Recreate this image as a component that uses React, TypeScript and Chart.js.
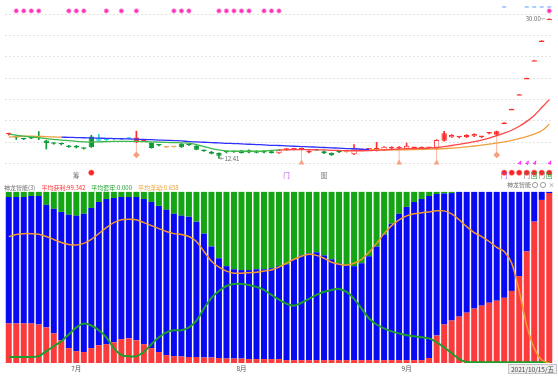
import React, { useEffect, useRef } from 'react';
import { Chart, registerables } from 'chart.js';

Chart.register(...registerables);

const FONT = '"Noto Sans CJK SC", "Noto Sans", sans-serif';

// ---------------- data ----------------
const monthTickIndex = [9, 31, 53];
const monthTickLabels = ['7月', '8月', '9月'];
const lastDateLabel = '2021/10/15/五';

const open = [15.45, 15.1, 14.87, 14.95, 15.1, 14.68, 14.3, 14.25, 14.0, 13.98,
  13.68, 15.18, 14.65, 14.75, 14.84, 14.82, 14.9, 14.45, 14.72, 14.35,
  14.12, 13.8, 13.85, 14.27, 14.15, 14.0, 13.4, 13.25, 13.1, 13.2,
  13.25, 13.4, 13.45, 13.35, 13.35, 13.33, 13.5, 13.5, 13.55, 13.55,
  13.15, 13.45, 13.33, 13.1, 13.25, 13.22, 12.95, 13.4, 13.55, 13.55,
  13.45, 13.65, 13.68, 13.62, 13.75, 13.55, 13.72, 13.65, 14.65, 15.08,
  15.08, 15.07, 15.2, 15.1, 15.55, 15.84, 16.93, 18.63, 20.49, 22.54,
  24.79, 27.27, 30.0];
const high = [15.6, 15.3, 14.92, 15.0, 15.8, 14.7, 14.38, 14.35, 14.05, 14.05,
  13.72, 15.34, 15.45, 14.8, 14.88, 14.9, 15.0, 15.84, 14.78, 14.4,
  14.15, 13.9, 13.95, 14.3, 14.2, 14.05, 13.45, 13.3, 13.12, 13.3,
  13.3, 13.45, 13.5, 13.4, 13.4, 13.38, 13.55, 13.65, 13.66, 13.7,
  13.4, 13.52, 13.36, 13.12, 13.3, 13.28, 14.15, 13.6, 13.66, 14.43,
  13.9, 13.9, 13.9, 14.35, 13.82, 13.88, 13.8, 14.78, 15.82, 15.42,
  15.2, 15.42, 15.52, 15.2, 15.65, 15.86, 16.93, 18.63, 20.49, 22.54,
  24.79, 27.27, 30.0];
const low = [15.35, 14.8, 14.78, 14.9, 14.77, 13.6, 14.2, 14.12, 13.82, 13.72,
  13.58, 13.8, 14.6, 14.68, 14.78, 14.78, 14.88, 14.4, 14.58, 13.7,
  14.0, 13.78, 13.82, 13.8, 14.05, 13.5, 13.3, 12.98, 12.41, 13.1,
  13.18, 13.08, 13.12, 13.1, 13.12, 13.08, 13.05, 13.45, 13.5, 13.5,
  13.12, 13.4, 13.02, 12.78, 13.15, 13.15, 12.9, 13.38, 13.5, 13.35,
  13.42, 13.6, 13.62, 13.55, 13.65, 13.5, 13.68, 13.6, 14.6, 15.05,
  15.0, 15.05, 15.15, 15.02, 15.5, 15.3, 16.93, 18.63, 20.49, 22.54,
  24.79, 27.27, 30.0];
const close = [15.5, 15.05, 14.82, 14.93, 15.05, 14.35, 14.25, 14.2, 13.85, 13.78,
  13.62, 13.82, 14.95, 14.72, 14.82, 14.86, 14.97, 15.05, 14.62, 13.73,
  14.05, 13.88, 13.9, 13.83, 14.1, 13.52, 13.35, 13.0, 12.75, 13.22,
  13.23, 13.1, 13.15, 13.12, 13.15, 13.1, 13.08, 13.6, 13.62, 13.65,
  13.35, 13.48, 13.05, 12.8, 13.2, 13.18, 13.65, 13.55, 13.62, 13.6,
  13.88, 13.85, 13.85, 14.0, 13.72, 13.85, 13.76, 14.75, 15.6, 15.38,
  15.1, 15.38, 15.5, 15.12, 15.62, 15.39, 16.93, 18.63, 20.49, 22.54,
  24.79, 27.27, 30.0];
// candle kind: g down, r up (hollow), R up (solid), c / o highlighted
const candleKind = 'rgggggggggggcccccRRggoogggggggggggggrrrRrggggorrrRrrrrRrrrRrrRrrRRRRRRRR';

const maShort = [15.47, 15.34, 15.22, 15.13, 15.03, 14.91, 14.82, 14.72, 14.65, 14.57,
  14.51, 14.47, 14.50, 14.53, 14.56, 14.57, 14.57, 14.56, 14.53, 14.50,
  14.47, 14.43, 14.41, 14.38, 14.35, 14.16, 13.91, 13.66, 13.48, 13.35,
  13.32, 13.32, 13.32, 13.32, 13.35, 13.42, 13.48, 13.50, 13.52, 13.52,
  13.52, 13.50, 13.48, 13.44, 13.42, 13.39, 13.38, 13.38, 13.39, 13.44,
  13.48, 13.54, 13.60, 13.64, 13.66, 13.69, 13.73, 13.79, 13.91, 14.04,
  14.19, 14.35, 14.53, 14.72, 14.97, 15.28, 15.59, 15.96, 16.46, 17.08,
  17.83, 18.82, 19.81];
const maLong = [15.09, 15.16, 15.22, 15.22, 15.19, 15.16, 15.12, 15.09, 15.07, 15.04,
  15.02, 14.99, 14.97, 14.94, 14.92, 14.89, 14.87, 14.84, 14.81, 14.77,
  14.73, 14.70, 14.66, 14.62, 14.53, 14.50, 14.45, 14.41, 14.37, 14.32,
  14.29, 14.25, 14.20, 14.16, 14.12, 14.07, 14.04, 14.00, 13.95, 13.91,
  13.88, 13.83, 13.79, 13.75, 13.70, 13.66, 13.63, 13.58, 13.54, 13.50,
  13.48, 13.48, 13.49, 13.50, 13.53, 13.55, 13.58, 13.60, 13.65, 13.70,
  13.78, 13.88, 13.98, 14.10, 14.22, 14.35, 14.50, 14.68, 14.91, 15.16,
  15.47, 15.90, 16.71];

// lower panel: chip distribution percentages
const profitPct = [23.1, 23.1, 23.1, 23.1, 22.5, 20.8, 17.3, 13.3, 8.7, 6.9,
  6.4, 8.7, 10.4, 11.0, 12.1, 13.9, 14.4, 13.3, 11.0, 8.7,
  6.4, 4.6, 4.0, 3.8, 3.5, 3.5, 3.2, 3.2, 2.9, 2.6,
  2.6, 2.6, 2.3, 2.3, 2.3, 2.3, 2.3, 1.7, 1.7, 1.7,
  1.7, 1.7, 1.7, 1.7, 1.7, 1.7, 1.7, 1.7, 1.7, 1.7,
  1.7, 1.7, 1.7, 1.7, 1.7, 1.7, 2.9, 16.0, 22.5, 24.8,
  27.1, 29.4, 31.8, 33.5, 35.2, 36.4, 38.1, 42.1, 50.8, 65.2,
  82.6, 95.3, 99.342];
const floatPct = [73.9, 73.9, 73.9, 74.5, 75.1, 71.6, 72.8, 75.0, 77.9, 79.1,
  80.8, 81.9, 83.7, 84.8, 84.3, 83.1, 82.6, 83.7, 84.8, 85.4,
  85.4, 84.9, 83.2, 82.2, 82.0, 79.1, 72.4, 64.9, 58.3, 54.0,
  52.2, 51.7, 52.0, 52.5, 52.5, 53.1, 54.3, 56.0, 58.9, 61.2,
  62.4, 63.0, 61.2, 58.9, 56.6, 55.5, 54.9, 56.6, 60.7, 66.4,
  73.4, 79.7, 85.5, 89.5, 92.4, 94.1, 94.7, 82.7, 76.5, 74.5,
  72.9, 70.6, 68.2, 66.5, 64.8, 63.6, 61.9, 57.9, 49.2, 34.8,
  17.4, 4.7, 0.658];
const trappedPct = [3.0, 3.0, 3.0, 2.4, 2.4, 7.6, 9.9, 11.7, 13.4, 14.0,
  12.8, 9.4, 5.9, 4.2, 3.6, 3.0, 3.0, 3.0, 4.2, 5.9,
  8.2, 10.5, 12.8, 14.0, 14.5, 17.4, 24.4, 31.9, 38.8, 43.4,
  45.2, 45.7, 45.7, 45.2, 45.2, 44.6, 43.4, 42.3, 39.4, 37.1,
  35.9, 35.3, 37.1, 39.4, 41.7, 42.8, 43.4, 41.7, 37.6, 31.9,
  24.9, 18.6, 12.8, 8.8, 5.9, 4.2, 2.4, 1.3, 1.0, 0.7,
  0, 0, 0, 0, 0, 0, 0, 0, 0, 0,
  0, 0, 0];
const avgLine = [73.9, 75.1, 75.6, 75.6, 75.3, 73.9, 72.2, 70.4, 69.3, 69.0,
  69.9, 72.2, 75.6, 79.1, 82.0, 83.7, 84.0, 83.7, 82.0, 80.3,
  78.5, 76.8, 75.6, 75.1, 73.9, 71.0, 65.2, 59.5, 56.0, 53.7,
  52.5, 52.5, 52.8, 53.1, 53.7, 54.3, 56.0, 58.3, 60.6, 62.4,
  63.5, 62.9, 61.2, 58.9, 57.7, 57.2, 58.3, 60.6, 64.7, 69.9,
  75.6, 80.3, 83.7, 86.0, 87.2, 87.8, 88.3, 88.9, 88.9, 87.2,
  83.7, 79.7, 76.2, 73.9, 71.0, 67.6, 65.2, 58.3, 42.1, 21.9,
  8.7, 1.7, 0];
const trapLine = [3.5, 3.5, 3.5, 3.5, 4.0, 6.9, 9.8, 12.7, 16.7, 20.8,
  23.1, 21.9, 19.1, 15.0, 8.7, 4.6, 4.0, 4.0, 6.4, 11.0,
  15.0, 17.9, 19.1, 19.1, 20.8, 24.8, 31.8, 38.1, 42.1, 45.0,
  46.2, 46.2, 45.6, 44.5, 42.7, 39.8, 37.0, 34.6, 33.5, 35.2,
  37.5, 39.8, 41.6, 42.7, 43.3, 41.6, 37.5, 31.8, 26.0, 22.5,
  20.2, 18.5, 17.3, 16.2, 15.6, 15.0, 14.4, 12.1, 9.2, 5.8,
  2.3, 0.6, 0.5, 0.5, 0.5, 0.5, 0.5, 0.5, 0.5, 0.5,
  0.5, 0.5, 0.4];

// signal bars
const signalTop = [1, 2, 3, 4, 8, 9, 10, 13, 15, 17, 22, 23, 24, 28, 29, 30, 31, 32, 34, 35, 36, 72];
const signalTopBlue = [66, 69, 70, 71, 72];
const signalRed = [11, 66, 67, 68, 69, 70, 71, 72];
const signalFlag = [68, 69, 70, 72];
const arrowMarks = [39, 52, 57];
const diamondMarks = [17, 65];
const iconMarks = [
  { i: 9, t: '筹', k: 'gray' }, { i: 37, t: '门', k: 'purple' }, { i: 42, t: '图', k: 'gray' },
  { i: 66, t: '门', k: 'purple' }, { i: 69, t: '门', k: 'gray' }, { i: 70, t: '回', k: 'green' },
  { i: 71, t: '门', k: 'gray' }, { i: 72, t: '回', k: 'green' },
];

const panelName = '神龙智能(3)';
const panelShortName = '神龙智能';
const summaryLabels = ['平均获利', '平均套牢', '平均浮动'];
const summaryValues = ['99.342', '0.000', '0.658'];

const categories = open.map((_, i) => String(i));

// ---------------- layout / style ----------------
const W = 558, H = 376;
const PLOT_BOTTOM = 363;
const PRICE_MAX = 31.739, PRICE_MIN = -13.354;
const PCT_MAX = 209.2;
const GRID_TOP = 30.56, GRID_STEP = 2.683, GRID_COUNT = 8;
const ROW_TOP_DASH = 2, ROW_TOP_DOT = 6, ROW_DIAMOND = 152, ROW_ARROW = 160, ROW_FLAG = 163,
  ROW_RED = 170, ROW_ICON = 176, ROW_TITLE = 185, ROW_MONTH = 369;
const MA_SHORT_RED_FROM = 36;
const MA_LONG_BLUE_FROM = 7, MA_LONG_BLUE_TO = 48;

const KIND: Record<string, { fill: string; line: string }> = {
  g: { fill: '#0f9a38', line: '#0f9a38' },
  r: { fill: '#ffffff', line: '#ff3434' },
  R: { fill: '#ff2b2b', line: '#ff2b2b' },
  c: { fill: '#8cf0f6', line: '#2fd0e4' },
  o: { fill: '#fcdcbc', line: '#f3a66a' },
};
const ICON_COLOR: Record<string, string> = { gray: '#777777', purple: '#a848e8', green: '#2e9e3a' };
const SUMMARY_COLORS = ['#ff3030', '#1e9e2a', '#f0a030'];

const idx = categories.map((_, i) => i);
const rowData = (list: number[], row: number) => idx.map((i) => (list.includes(i) ? row : null));

const overlay = {
  id: 'overlay',
  beforeDatasetsDraw(chart: any) {
    const { ctx } = chart;
    const xs = chart.scales.x, yp = chart.scales.yp, ym = chart.scales.ym;
    ctx.save();
    ctx.strokeStyle = 'rgba(246,160,128,0.75)';
    ctx.lineWidth = 1;
    const link = (list: number[], row: number) => list.forEach((i) => {
      const px = xs.getPixelForValue(i);
      ctx.beginPath();
      ctx.moveTo(px, yp.getPixelForValue(low[i]));
      ctx.lineTo(px, ym.getPixelForValue(row));
      ctx.stroke();
    });
    link(arrowMarks, ROW_ARROW);
    link(diamondMarks, ROW_DIAMOND);
    ctx.restore();
  },
  afterDatasetsDraw(chart: any) {
    const { ctx } = chart;
    const xs = chart.scales.x, yp = chart.scales.yp, ym = chart.scales.ym;
    ctx.save();
    ctx.textBaseline = 'middle';

    // month labels
    ctx.font = `6.5px ${FONT}`;
    ctx.fillStyle = '#555';
    ctx.textAlign = 'center';
    monthTickIndex.forEach((i, k) => ctx.fillText(monthTickLabels[k], xs.getPixelForValue(i), ROW_MONTH));

    // last date box
    ctx.font = `6.5px ${FONT}`;
    const dw = ctx.measureText(lastDateLabel).width + 6;
    const bx = W - 1 - dw;
    ctx.fillStyle = '#efefef';
    ctx.fillRect(bx, 364, dw, 10);
    ctx.strokeStyle = '#c4c4c4';
    ctx.strokeRect(bx + 0.5, 364.5, dw - 1, 9);
    ctx.fillStyle = '#444';
    ctx.textAlign = 'left';
    ctx.fillText(lastDateLabel, bx + 3, 369.5);

    // panel summary
    ctx.font = `6px ${FONT}`;
    let x = 4;
    ctx.fillStyle = '#707070';
    ctx.fillText(panelName, x, ym.getPixelForValue(ROW_TITLE));
    x += ctx.measureText(panelName).width + 6;
    summaryLabels.forEach((lab, k) => {
      const s = `${lab}:${summaryValues[k]}`;
      ctx.fillStyle = SUMMARY_COLORS[k];
      ctx.fillText(s, x, ym.getPixelForValue(ROW_TITLE));
      x += ctx.measureText(s).width + 6;
    });

    // right panel caption with icons
    ctx.fillStyle = '#707070';
    ctx.fillText(panelShortName, 507, ROW_TITLE);
    ctx.strokeStyle = '#888';
    ctx.lineWidth = 0.8;
    [535, 543].forEach((cx) => { ctx.beginPath(); ctx.arc(cx, ROW_TITLE, 2.6, 0, Math.PI * 2); ctx.stroke(); });
    ctx.textAlign = 'center';
    ctx.fillStyle = '#777';
    ctx.fillText('×', 551.5, ROW_TITLE);

    // max / min price labels
    let iMax = 0, iMin = 0;
    high.forEach((v, i) => { if (v > high[iMax]) iMax = i; });
    low.forEach((v, i) => { if (v < low[iMin]) iMin = i; });
    ctx.font = `6px ${FONT}`;
    const mx = xs.getPixelForValue(iMax), my = yp.getPixelForValue(high[iMax]);
    ctx.strokeStyle = '#999';
    ctx.beginPath(); ctx.moveTo(mx - 8, my); ctx.lineTo(mx - 4, my); ctx.stroke();
    ctx.fillStyle = '#666';
    ctx.textAlign = 'right';
    ctx.fillText(high[iMax].toFixed(2), mx - 8.5, my);
    const nx = xs.getPixelForValue(iMin), ny = yp.getPixelForValue(low[iMin]);
    ctx.beginPath(); ctx.moveTo(nx + 1, ny); ctx.lineTo(nx + 5, ny);
    ctx.moveTo(nx + 1, ny); ctx.lineTo(nx + 2.8, ny - 1.5);
    ctx.moveTo(nx + 1, ny); ctx.lineTo(nx + 2.8, ny + 1.5);
    ctx.stroke();
    ctx.textAlign = 'left';
    ctx.fillText(low[iMin].toFixed(2), nx + 5.5, ny);

    // flags
    ctx.font = `italic bold 6px ${FONT}`;
    ctx.fillStyle = '#ff1cf0';
    ctx.textAlign = 'center';
    signalFlag.forEach((i) => ctx.fillText('4', xs.getPixelForValue(i), ROW_FLAG));

    // icons
    ctx.font = `6.5px ${FONT}`;
    iconMarks.forEach((m) => {
      ctx.fillStyle = ICON_COLOR[m.k];
      ctx.fillText(m.t, xs.getPixelForValue(m.i), ROW_ICON);
    });
    ctx.restore();
  },
};

export default function App() {
  const ref = useRef<HTMLCanvasElement>(null);
  useEffect(() => {
    document.body.style.margin = '0';
    Chart.defaults.font.family = FONT;
    const kinds = candleKind.split('');
    const marker = (data: (number | null)[], extra: any) => ({
      type: 'line', yAxisID: 'ym', data, showLine: false, clip: false, order: 1, ...extra,
    });
    const chart = new Chart(ref.current as HTMLCanvasElement, {
      type: 'bar',
      data: {
        labels: categories,
        datasets: [
          // markers (top-most)
          marker(rowData(signalTop, ROW_TOP_DOT), { pointRadius: 2.2, pointBackgroundColor: '#ff2fbd', pointBorderColor: 'rgba(255,150,215,0.8)', pointBorderWidth: 1 }),
          marker(rowData(signalTopBlue, ROW_TOP_DASH), { pointStyle: 'line', pointRadius: 2, pointBorderColor: '#5b9dff', pointBorderWidth: 1 }),
          marker(rowData(signalRed, ROW_RED), { pointRadius: 2.7, pointBackgroundColor: '#ff1f1f', pointBorderColor: 'rgba(255,130,130,0.6)', pointBorderWidth: 1 }),
          marker(rowData(arrowMarks, ROW_ARROW), { pointStyle: 'triangle', pointRadius: 2.8, pointBackgroundColor: '#f6a27e', pointBorderColor: '#f6a27e', pointBorderWidth: 0.5 }),
          marker(rowData(diamondMarks, ROW_DIAMOND), { pointStyle: 'rectRot', pointRadius: 3, pointBackgroundColor: '#f6a27e', pointBorderColor: '#f48a60', pointBorderWidth: 0.5 }),
          // moving averages
          {
            type: 'line', yAxisID: 'yp', data: maShort, borderWidth: 1.3, pointRadius: 0, tension: 0.3, order: 3,
            borderColor: '#3db84a',
            segment: { borderColor: (c: any) => (c.p0DataIndex < MA_SHORT_RED_FROM ? '#3db84a' : '#ff4545') },
          },
          {
            type: 'line', yAxisID: 'yp', data: maLong, borderWidth: 1.3, pointRadius: 0, tension: 0.3, order: 4,
            borderColor: '#3030ff',
            segment: {
              borderColor: (c: any) => (c.p0DataIndex >= MA_LONG_BLUE_FROM && c.p0DataIndex < MA_LONG_BLUE_TO ? '#3030ff' : '#f0a040'),
            },
          },
          // lower panel lines
          { type: 'line', yAxisID: 'yl', data: avgLine, borderColor: '#f39a2a', borderWidth: 1.5, pointRadius: 0, tension: 0.25, order: 5 },
          { type: 'line', yAxisID: 'yl', data: trapLine, borderColor: '#1e9e2a', borderWidth: 2, pointRadius: 0, tension: 0.25, order: 5 },
          // candle bodies and wicks
          {
            type: 'bar', yAxisID: 'yp', data: idx.map((i) => [open[i], close[i]]), grouped: false,
            backgroundColor: kinds.map((k) => KIND[k].fill), borderColor: kinds.map((k) => KIND[k].line),
            borderWidth: 1, borderSkipped: false, categoryPercentage: 1, barPercentage: 0.72, minBarLength: 1.5, order: 7,
          },
          {
            type: 'bar', yAxisID: 'yp', data: idx.map((i) => [low[i], high[i]]), grouped: false,
            backgroundColor: kinds.map((k) => KIND[k].line), maxBarThickness: 1, categoryPercentage: 1, barPercentage: 1, order: 8,
          },
          // chip distribution stacked bars
          { type: 'bar', yAxisID: 'yb', data: profitPct, backgroundColor: '#fb3b3b', grouped: false, categoryPercentage: 1, barPercentage: 0.8, order: 10 },
          { type: 'bar', yAxisID: 'yb', data: floatPct, backgroundColor: '#0a0af2', grouped: false, categoryPercentage: 1, barPercentage: 0.8, order: 10 },
          { type: 'bar', yAxisID: 'yb', data: trappedPct, backgroundColor: '#13a513', grouped: false, categoryPercentage: 1, barPercentage: 0.8, order: 10 },
        ] as any,
      },
      options: {
        responsive: false,
        animation: false,
        devicePixelRatio: 1,
        events: [],
        layout: { padding: { left: 1.5, right: 1.5, top: 0, bottom: H - PLOT_BOTTOM } },
        plugins: { legend: { display: false }, tooltip: { enabled: false } },
        scales: {
          x: { type: 'category', display: false, offset: true },
          yp: {
            type: 'linear', position: 'left', min: PRICE_MIN, max: PRICE_MAX, stacked: false,
            grid: { color: '#e2e2e2', lineWidth: 1, drawTicks: false },
            border: { display: false, dash: [2, 2] },
            ticks: { display: false },
            afterBuildTicks: (s: any) => {
              const t = [];
              for (let k = 0; k < GRID_COUNT; k++) t.push({ value: GRID_TOP - k * GRID_STEP });
              s.ticks = t;
            },
          },
          yb: { type: 'linear', display: false, stacked: true, min: 0, max: PCT_MAX },
          yl: { type: 'linear', display: false, min: 0, max: PCT_MAX },
          ym: { type: 'linear', display: false, min: 0, max: PLOT_BOTTOM, reverse: true },
        },
      } as any,
      plugins: [overlay as any],
    });
    return () => chart.destroy();
  }, []);
  return (
    <div style={{ width: W, height: H, background: '#fff' }}>
      <canvas ref={ref} width={W} height={H} style={{ display: 'block', width: W, height: H }} />
    </div>
  );
}
